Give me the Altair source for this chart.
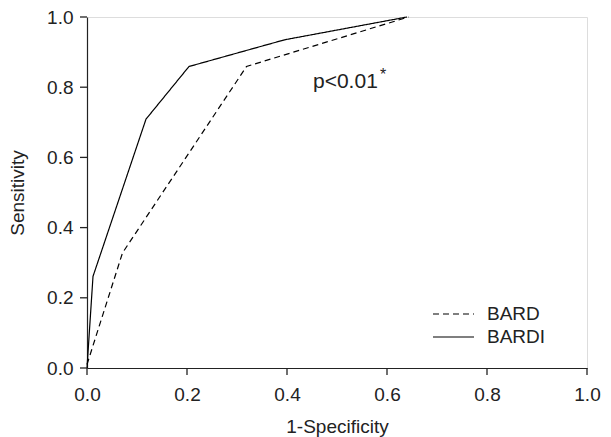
import altair as alt
import pandas as pd

bard_x = [0.0, 0.071, 0.319, 0.643]
bard_y = [0.01, 0.328, 0.859, 1.0]
bardi_x = [0.0, 0.012, 0.118, 0.204, 0.395, 0.640]
bardi_y = [0.0, 0.261, 0.709, 0.859, 0.935, 1.0]
series = ["BARD", "BARDI"]
ticks = [0.0, 0.2, 0.4, 0.6, 0.8, 1.0]

rows = []
for i, (x, y) in enumerate(zip(bard_x, bard_y)):
    rows.append({"series": "BARD", "fpr": x, "tpr": y, "o": i})
for i, (x, y) in enumerate(zip(bardi_x, bardi_y)):
    rows.append({"series": "BARDI", "fpr": x, "tpr": y, "o": i})
df = pd.DataFrame(rows)
tdf = pd.DataFrame({"v": ticks})

FONT = "Liberation Sans"
FS = 19
TXT = "#222222"
W, H = 500, 351

common = dict(values=ticks, format=".1f", grid=False, domainColor="#222", domainWidth=1.2,
              ticks=False, labelFlush=False, labelFontSize=FS, titleFontSize=FS,
              labelColor=TXT, titleColor=TXT, labelFont=FONT, titleFont=FONT,
              titleFontWeight="normal")

xs = alt.Scale(domain=[0, 1], nice=False)
ys = alt.Scale(domain=[0, 1], nice=False)
x_axis = alt.Axis(labelPadding=17, titlePadding=13, **common)
y_axis = alt.Axis(labelPadding=14, titlePadding=19, **common)

lines = alt.Chart(df).mark_line(color="black", strokeWidth=1.2).encode(
    x=alt.X("fpr:Q", title="1-Specificity", scale=xs, axis=x_axis),
    y=alt.Y("tpr:Q", title="Sensitivity", scale=ys, axis=y_axis),
    order="o:Q",
    strokeDash=alt.StrokeDash("series:N", title=None,
        scale=alt.Scale(domain=series, range=[[6, 4], [1, 0]]),
        legend=alt.Legend(orient="none", legendX=345, legendY=286,
                          symbolType="stroke", symbolSize=1681, symbolStrokeWidth=1.2,
                          symbolStrokeColor="black", labelFontSize=FS, labelFont=FONT,
                          labelColor=TXT, labelOffset=12, clipHeight=22, rowPadding=1)),
)

# axis tick marks (outside, 7px)
xticks = alt.Chart(tdf).mark_rule(color="#222", strokeWidth=1.3).encode(
    x=alt.X("v:Q", title="1-Specificity", scale=xs, axis=x_axis),
    y=alt.value(H), y2=alt.value(H + 7))
yticks = alt.Chart(tdf).mark_rule(color="#222", strokeWidth=1.3).encode(
    y=alt.Y("v:Q", title="Sensitivity", scale=ys, axis=y_axis),
    x=alt.value(0), x2=alt.value(-7))

ptxt = pd.DataFrame({"fpr": [0.452], "tpr": [0.798], "t": ["p<0.01"], "s": ["*"]})
p1 = alt.Chart(ptxt).mark_text(align="left", baseline="alphabetic", fontSize=21, font=FONT,
                               color=TXT).encode(x="fpr:Q", y="tpr:Q", text="t:N")
p2 = alt.Chart(ptxt).mark_text(align="left", baseline="alphabetic", fontSize=16, font=FONT,
                               color=TXT, dx=67, dy=-8).encode(x="fpr:Q", y="tpr:Q", text="s:N")

chart = alt.layer(lines, xticks, yticks, p1, p2).properties(
    width=W, height=H,
    autosize=alt.AutoSizeParams(type="none"),
    padding={"top": 9, "left": 79, "right": 16, "bottom": 69}
).configure_view(stroke="#222", strokeWidth=1.2).configure(background="white")

chart.save("out.html", embed_options={"renderer": "svg", "actions": False})
